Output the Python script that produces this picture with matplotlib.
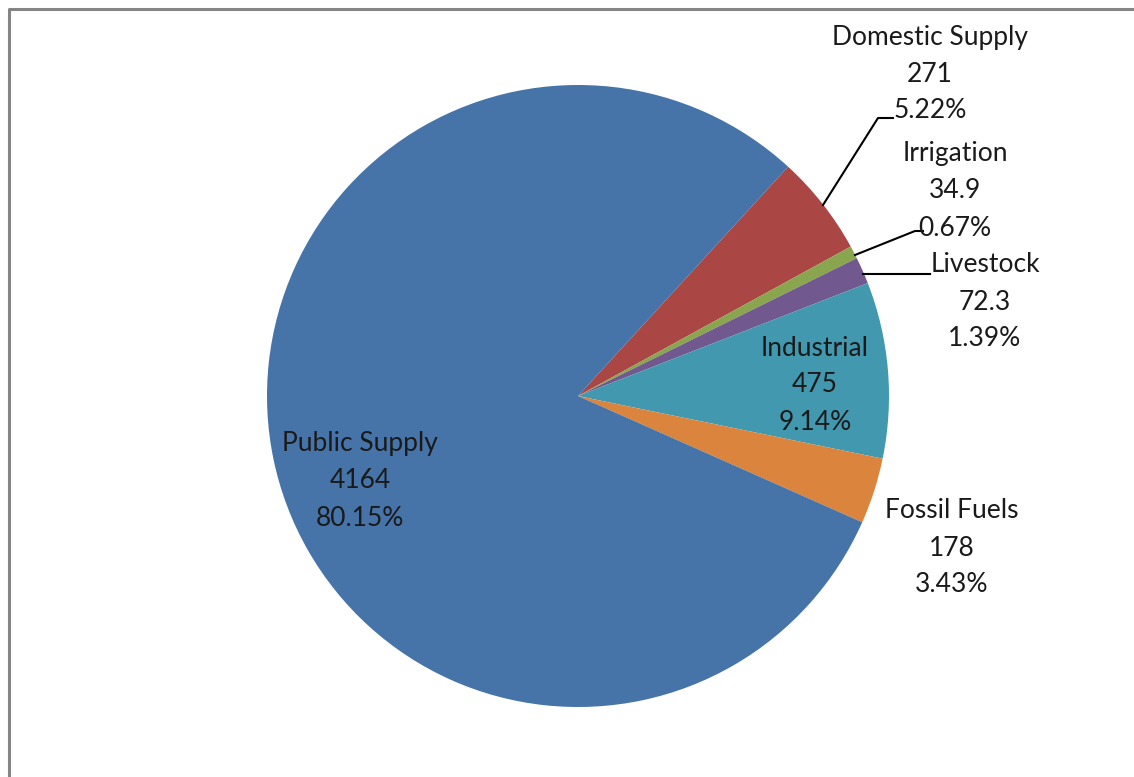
import matplotlib
matplotlib.use("Agg")
import matplotlib.pyplot as plt

categories = ["Domestic Supply", "Irrigation", "Livestock", "Industrial", "Fossil Fuels", "Public Supply"]
values = [271, 34.9, 72.3, 475, 178, 4164]
value_labels = ["271", "34.9", "72.3", "475", "178", "4164"]
colors = ["#AA4643", "#89A54E", "#71588F", "#4198AF", "#DB843D", "#4674A8"]

W, H = 1134, 777
fig = plt.figure(figsize=(W / 100, H / 100), dpi=100)
ax = fig.add_axes([0, 0, 1, 1])

cx, cy, r = 578, 396, 311
wedges, _ = ax.pie(values, colors=colors, startangle=-47.5, counterclock=True,
                   center=(cx, cy), radius=r, wedgeprops=dict(linewidth=0),
                   frame=True)
ax.set_xlim(0, W)
ax.set_ylim(H, 0)
ax.set_aspect("equal")
ax.axis("off")

total = sum(values)
pcts = [f"{v / total * 100:.2f}%" for v in values]
labels = [f"{c}\n{vl}\n{p}" for c, vl, p in zip(categories, value_labels, pcts)]

label_pos = [(930, 74), (955, 191), (985, 302), (815, 385), (952, 548), (360, 481)]
font = dict(family="Lato", fontsize=19, color="#1a1a1a", ha="center", va="center",
            linespacing=1.6)
for lab, (x, y) in zip(labels, label_pos):
    ax.text(x, y, lab, **font)

leaders = [
    [(823, 205), (878, 118), (893, 118)],
    [(855, 255), (915, 231), (923, 231)],
    [(863, 274), (930, 274)],
]
for pts in leaders:
    xs, ys = zip(*pts)
    ax.plot(xs, ys, color="black", lw=1.5)

# chart area border (left and top visible)
ax.plot([9, 9, W + 5], [H + 5, 9, 9], color="#858585", lw=2.2, solid_capstyle="butt")

fig.savefig("out.png", dpi=100)
